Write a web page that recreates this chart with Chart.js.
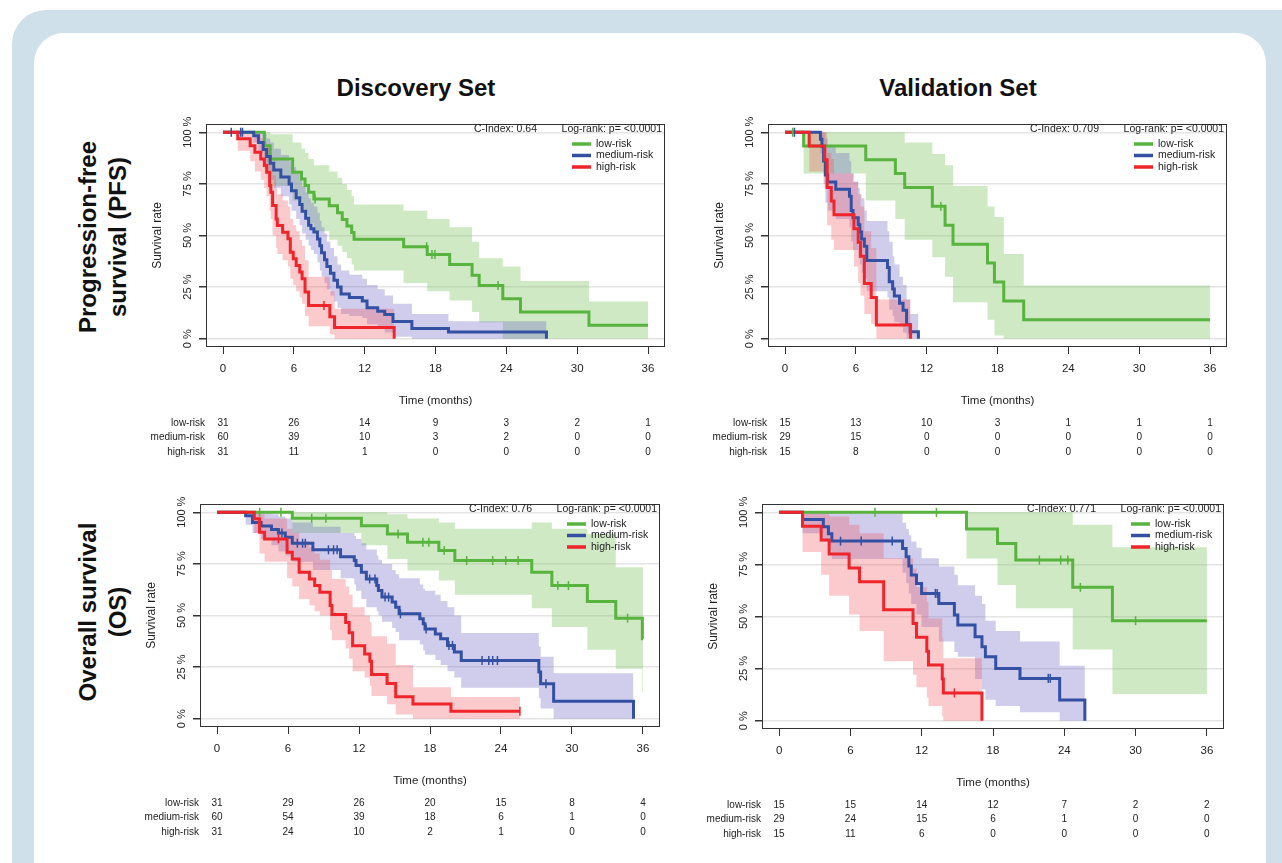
<!DOCTYPE html>
<html lang="en">
<head>
  <meta charset="UTF-8" />
  <title>Kaplan-Meier survival by risk group</title>
  <script src="https://cdn.jsdelivr.net/npm/chart.js"></script>
  <style>
    * { margin: 0; padding: 0; box-sizing: border-box; }
    body {
      width: 1282px; height: 863px; overflow: hidden; position: relative;
      background: #fff; font-family: "Liberation Sans", Arial, sans-serif; color: #111;
    }
    #bg {
      position: absolute; left: 12px; top: 10px; width: 1320px; height: 920px;
      background: #cfe0ea; border-radius: 34px;
    }
    #card {
      position: absolute; left: 34px; top: 33px; width: 1232px; height: 900px;
      background: #fff; border-radius: 30px;
    }
    .coltitle {
      position: absolute; width: 240px; height: 28px; line-height: 28px;
      text-align: center; font-weight: bold; font-size: 24px;
    }
    .rowtitle {
      position: absolute; width: 260px; height: 60px; line-height: 30px;
      text-align: center; font-weight: bold; font-size: 24px;
      transform: rotate(-90deg); transform-origin: 50% 50%;
    }
    canvas { position: absolute; }
  </style>
</head>
<body>
  <div id="bg"></div>
  <div id="card"></div>

  <div class="coltitle" style="left:296px; top:74px;">Discovery Set</div>
  <div class="coltitle" style="left:838px; top:74px;">Validation Set</div>

  <div class="rowtitle" style="left:-27px; top:207px;">Progression-free<br>survival (PFS)</div>
  <div class="rowtitle" style="left:-27px; top:582px;">Overall survival<br>(OS)</div>

<script>
  // ---- data ----
  const months = [0, 6, 12, 18, 24, 30, 36];
  const yTicks = [0, 25, 50, 75, 100];
  const groups = ['low-risk', 'medium-risk', 'high-risk'];
  const cIndexes = ['0.64', '0.709', '0.76', '0.771'];
  const logRank = 'Log-rank: p= <0.0001';

  // each step: [time, survival %, upper CI %, lower CI %]
  const pfsDiscLow = [
    [0,100,100,100],[3.5,93.5,100,82],[4.0,87.1,99,74],[5.9,80.6,95,67],[6.65,77.4,92,63],
    [6.95,74.2,90,60],[7.25,71,87,56],[7.7,67.7,84,52],[9.0,64.4,81,48],[9.7,61,78,45],
    [10.1,57.8,75,42],[10.5,54.6,72,39],[10.9,51.5,69,36],[11.1,48.2,65,33],[15.3,44.6,62,27],
    [17.3,40.8,58,23],[19.2,36,54,18.5],[21.1,30.8,47,13],[21.7,25.8,39,8],[23.7,19.4,35,0],
    [25.2,12.9,28,0],[31.0,6.5,18,0],[36,6.5,18,0]
  ];
  const pfsDiscMed = [
    [0,100,100,100],[2.6,98.3,100,95],[3.0,95,100,90],[3.4,91.7,99,84],[3.7,88.3,97,80],
    [4.0,85,95,77],[4.3,81.7,92,73],[4.9,78.3,89,69],[5.6,75,86,65],[5.8,71.7,83,62],
    [6.2,68.3,80,58],[6.5,65,77,55],[6.7,61.7,74,51],[7.0,58.3,71,48],[7.25,55,68,45],
    [7.45,53.3,66,43],[7.7,51.7,64,41],[8.0,48.3,61,37],[8.2,45,57,33],[8.35,41.7,54,30],
    [8.6,38.3,51,27],[8.8,35,47,24],[9.1,31.7,44,21],[9.4,28.3,40,18],[9.7,25,36,15],
    [10.0,21.7,33,12],[10.7,20,31,11],[11.8,18.3,29,10],[12.2,15,26,7],[13.1,13.3,24,5],
    [13.7,11.7,21,3],[14.4,8.3,17,1],[16.0,5,12,0],[19.1,3.3,8.5,0],[27.4,0,0,0]
  ];
  const pfsDiscHigh = [
    [0,100,100,100],[1.25,96.8,100,91],[2.3,93.5,100,86],[2.7,90.3,99,81],[3.2,87.1,97,77],
    [3.5,83.9,95,73],[3.7,80.6,93,69],[3.95,74.2,88,62],[4.05,71,85,58],[4.2,64.5,79,50],
    [4.5,58,73,44],[4.6,54.8,70,41],[5.05,51.6,67,38],[5.5,48.4,64,35],[5.7,41.9,58,29],
    [5.95,38.7,55,26],[6.2,35.5,52,23],[6.5,32.3,48,20],[6.7,29,45,17],[6.95,22.6,38,11],
    [7.25,16.1,30,6],[9.05,10.7,23,2],[9.45,5.4,14.5,0],[14.5,0,0,0]
  ];
  const pfsDiscLowCens = [7.8, 17.25, 17.7, 17.95, 23.3];
  const pfsDiscMedCens = [0.7, 1.5, 1.65];
  const pfsDiscHighCens = [8.55];

  const pfsValLow = [
    [0,100,100,100],[1.58,93.3,100,80],[6.84,86.7,100,67],[9.35,80,100,58],[10.14,73.3,95,48],
    [12.48,64.2,89.5,39.5],[13.56,55,84,30],[14.23,45.8,74,17.7],[17.15,36.7,64,9.2],
    [17.74,27.5,59,1.6],[18.53,18.3,41,0],[20.22,9.2,25.8,0],[36,9.2,25.8,0]
  ];
  const pfsValMed = [
    [0,100,100,100],[3.0,96.6,100,90],[3.13,93.1,100,85],[3.27,86.2,100,75],[3.42,79.3,97,66],
    [3.62,75.9,93,62],[4.3,72.4,90,58],[5.46,69,86,54],[5.61,62.1,80,47],[5.76,58.6,76,43],
    [6.2,55.2,73,39],[6.34,51.7,70,36],[6.49,48.3,68,32],[6.72,44.8,62,29],[6.93,37.9,57,23],
    [8.68,34.5,52,20],[8.83,27.6,47,14],[9.12,24.1,40,11],[9.26,20.7,36,8],[9.7,17.2,30,6],
    [10.0,13.8,26,3],[10.3,6.9,19,0],[10.6,3.4,12,0],[11.3,0,0,0]
  ];
  const pfsValHigh = [
    [0,100,100,100],[2.05,93.3,100,81],[3.36,86.7,100,73],[3.57,73.3,90,55],[3.92,66.7,87,48],
    [4.15,60,80,43],[5.84,53.3,76,35],[6.2,46.7,70,27],[6.4,40,64,21],[6.72,26.7,52,12],
    [7.3,20,44,7],[7.74,6.7,19,0],[10.64,0,0,0]
  ];
  const pfsValLowCens = [0.65, 13.2];
  const pfsValMedCens = [0.8];
  const pfsValHighCens = [];

  const osDiscLow = [
    [0,100,100,100],[6.36,97.1,100,90],[12.2,93.5,100,84],[14.4,89.5,99,77.4],[16.1,85.5,97,71.8],
    [18.75,81.5,95,67],[20.1,76.6,92,60],[26.6,71,95,53.5],[28.3,64.5,92,44.4],[31.3,56.8,89.5,33.4],
    [33.7,48.7,73.4,24.2],[35.95,38.7,73.4,12.9],[36,38.7,73.4,12.9]
  ];
  const osDiscMed = [
    [0,100,100,100],[2.42,98.3,100,94],[3.0,95,100,90],[3.73,93.3,100,87],[4.6,91.7,99,84],
    [5.19,90,98,81],[5.77,87.9,97,79],[6.36,85,95,76],[8.1,81.8,93,72],[10.44,78.5,90,68],
    [11.6,76.6,88.5,65],[11.75,74.2,87,62],[12.2,71,85,58],[12.62,67.7,82,54],[13.5,64.5,79,52],
    [13.64,62.1,77,50],[13.94,58.9,75,47],[14.8,56.5,72,44],[15.1,54,70,42],[15.39,50.8,68,38],
    [17.14,48.4,65,36],[17.43,46,63,33],[17.58,43.5,62,31],[18.45,41.1,60,28.5],[18.9,38.7,57,26],
    [19.48,35.5,54,23],[20.06,32.3,50,20],[20.64,28.2,41.5,15],[27.2,22.6,35,10],[27.35,16.9,30,5],
    [28.45,8.5,22,0],[35.2,0,0,0]
  ];
  const osDiscHigh = [
    [0,100,100,100],[3.15,96.8,100,90],[3.59,90.3,99,80],[4.02,87.1,97,76],[5.92,80.6,92,68],
    [6.36,77.4,90,64],[6.94,71,86,58],[7.81,67.7,83,55],[8.25,64.5,80,52],[8.69,61.3,77,50],
    [9.56,54.8,72,43],[9.71,50.5,67.7,38],[10.87,46.6,64,34],[11.17,41.6,60,29],[11.46,35.4,54,23],
    [12.48,31.3,50,20],[12.92,27.9,46.8,16],[13.06,21.4,40,11],[14.37,17.1,36.3,7],[15.1,10.7,26,2],
    [16.56,7.1,15.3,0],[19.77,3.6,10.5,0],[25.6,3.6,10.5,0]
  ];
  const osDiscLowCens = [3.6, 5.4, 8.0, 9.2, 15.3, 17.4, 17.9, 19.2, 21.1, 23.3, 24.4, 25.45, 28.8, 29.7, 34.7];
  const osDiscMedCens = [5.48, 6.79, 7.23, 7.46, 9.42, 9.85, 10.15, 12.9, 13.35, 14.2, 14.5, 15.5,
                         17.67, 19.6, 19.9, 22.4, 22.97, 23.3, 23.7, 27.8];
  const osDiscHighCens = [5.19, 25.6];

  const osValLow = [
    [0,100,100,100],[15.77,92,100,77.9],[18.38,85.1,100,65.1],[19.92,77.1,100,54],
    [24.71,64,94,34.2],[28.05,48,83.2,12.8],[36,48,83.2,12.8]
  ];
  const osValMed = [
    [0,100,100,100],[1.97,96.6,100,90],[3.72,93.1,100,86],[4.15,89.7,100,82],[4.44,86.2,100,77.6],
    [10.39,82.7,95,71],[10.69,78.7,92,66],[10.92,74.2,89,61],[11.12,69.9,86,56],[11.56,65.9,83,51],
    [11.99,61.1,78,45],[13.44,56.3,74,38],[14.75,50.7,70,33],[15.04,45.9,65,30.7],[16.49,40.3,60,20],
    [17.07,35.5,56,15],[17.36,30.7,48,10],[18.23,25.1,43,7],[20.27,20.3,38,4],[23.61,9.9,26.4,0],
    [25.73,0,0,0]
  ];
  const osValHigh = [
    [0,100,100,100],[1.97,93.3,100,81],[3.54,86.7,100,70],[4.21,80,98,60],[5.89,73.3,94,51],
    [6.77,66.7,90,43],[8.8,53.3,78,28.5],[11.27,46.7,73,22],[11.56,40,64,16],[12.43,33.3,57,11],
    [12.57,26.7,49,7],[13.73,20,40,2],[13.82,13.3,30,0],[17.07,0,0,0]
  ];
  const osValLowCens = [8.07, 13.24, 21.9, 23.7, 24.3, 25.35, 30.0];
  const osValMedCens = [5.17, 6.91, 9.52, 13.15, 13.3, 22.65, 22.82];
  const osValHighCens = [14.75];

  // numbers at risk, one row per group, one value per month tick
  const pfsDiscRisk = [[31,26,14,9,3,2,1],[60,39,10,3,2,0,0],[31,11,1,0,0,0,0]];
  const pfsValRisk  = [[15,13,10,3,1,1,1],[29,15,0,0,0,0,0],[15,8,0,0,0,0,0]];
  const osDiscRisk  = [[31,29,26,20,15,8,4],[60,54,39,18,6,1,0],[31,24,10,2,1,0,0]];
  const osValRisk   = [[15,15,14,12,7,2,2],[29,24,15,6,1,0,0],[15,11,6,0,0,0,0]];

  // ---- style ----
  const lineColors = ['#58b43f', '#3350a3', '#f0242b'];
  const bandColors = ['rgba(120,195,90,0.36)', 'rgba(115,105,200,0.34)', 'rgba(240,90,100,0.32)'];
  const FONT = '"Liberation Sans", Arial, sans-serif';
  Chart.defaults.font.family = FONT;
  Chart.defaults.color = '#222';

  const panels = [
    { left: 206, top: 124, bw: 459, bh: 223, curves: [pfsDiscLow, pfsDiscMed, pfsDiscHigh],
      cens: [pfsDiscLowCens, pfsDiscMedCens, pfsDiscHighCens], risk: pfsDiscRisk, cIndex: cIndexes[0] },
    { left: 768, top: 124, bw: 459, bh: 223, curves: [pfsValLow, pfsValMed, pfsValHigh],
      cens: [pfsValLowCens, pfsValMedCens, pfsValHighCens], risk: pfsValRisk, cIndex: cIndexes[1] },
    { left: 200, top: 504, bw: 460, bh: 223, curves: [osDiscLow, osDiscMed, osDiscHigh],
      cens: [osDiscLowCens, osDiscMedCens, osDiscHighCens], risk: osDiscRisk, cIndex: cIndexes[2] },
    { left: 762, top: 504, bw: 462, bh: 225, curves: [osValLow, osValMed, osValHigh],
      cens: [osValLowCens, osValMedCens, osValHighCens], risk: osValRisk, cIndex: cIndexes[3] }
  ];

  function survAt(curve, t) {
    let s = curve[0][1];
    for (const p of curve) { if (p[0] <= t) s = p[1]; }
    return s;
  }

  // box, rotated y labels, c-index, legend and risk table
  const kmDecor = {
    id: 'kmDecor',
    afterDatasetsDraw(chart, args, o) {
      const { ctx, chartArea: a, scales: { x, y } } = chart;
      ctx.save();
      ctx.strokeStyle = '#333';
      ctx.lineWidth = 1;
      ctx.strokeRect(a.left + 0.5, a.top + 0.5, a.right - a.left - 1, a.bottom - a.top - 1);

      ctx.fillStyle = '#222';
      ctx.font = '11px ' + FONT;
      ctx.textAlign = 'center';
      ctx.textBaseline = 'middle';
      yTicks.forEach(v => {
        ctx.save();
        ctx.translate(a.left - 18, y.getPixelForValue(v));
        ctx.rotate(-Math.PI / 2);
        ctx.fillText(v + ' %', 0, 0);
        ctx.restore();
      });

      ctx.font = '10.5px ' + FONT;
      ctx.textAlign = 'right';
      ctx.fillText('C-Index: ' + o.cIndex, a.right - 128, a.top + 5);
      ctx.fillText(logRank, a.right - 3, a.top + 5);

      groups.forEach((g, i) => {
        const yy = a.top + 20 + i * 11.5;
        ctx.strokeStyle = lineColors[i];
        ctx.lineWidth = 3.5;
        ctx.beginPath();
        ctx.moveTo(a.right - 93, yy);
        ctx.lineTo(a.right - 74, yy);
        ctx.stroke();
        ctx.textAlign = 'left';
        ctx.fillText(g, a.right - 69, yy);
      });

      ctx.font = '10px ' + FONT;
      o.risk.forEach((row, i) => {
        const yy = a.bottom + 76 + i * 14.5;
        ctx.textAlign = 'right';
        ctx.fillText(groups[i], a.left - 1, yy);
        ctx.textAlign = 'center';
        row.forEach((n, j) => ctx.fillText(n, x.getPixelForValue(months[j]), yy));
      });
      ctx.restore();
    }
  };

  panels.forEach((p, k) => {
    const cv = document.createElement('canvas');
    const w = p.bw + 80, h = p.bh + 125;
    cv.width = w; cv.height = h;
    cv.style.left = (p.left - 70) + 'px';
    cv.style.top = (p.top - 10) + 'px';
    document.body.appendChild(cv);

    const datasets = [];
    p.curves.forEach((c, i) => {
      const ord = 3 - i;
      datasets.push({
        data: c.map(q => ({ x: q[0], y: q[2] })), stepped: true, fill: '+1',
        backgroundColor: bandColors[i], borderWidth: 0, pointRadius: 0, order: 10 + ord
      });
      datasets.push({
        data: c.map(q => ({ x: q[0], y: q[3] })), stepped: true, fill: false,
        borderWidth: 0, pointRadius: 0, order: 10 + ord
      });
      datasets.push({
        data: c.map(q => ({ x: q[0], y: q[1] })), stepped: true, fill: false,
        borderColor: lineColors[i], borderWidth: 3, pointRadius: 0,
        borderJoinStyle: 'miter', order: ord
      });
      datasets.push({
        data: p.cens[i].map(t => ({ x: t, y: survAt(c, t) })), showLine: false,
        pointStyle: 'line', pointRotation: 90, pointRadius: 4.5,
        borderColor: lineColors[i], borderWidth: 1.5, order: 0
      });
    });

    new Chart(cv, {
      type: 'line',
      data: { datasets },
      plugins: [kmDecor],
      options: {
        responsive: false,
        animation: false,
        layout: { padding: { left: 10, top: 10, right: 10, bottom: 54 } },
        plugins: {
          legend: { display: false },
          tooltip: { enabled: false },
          filler: { drawTime: 'beforeDatasetsDraw' },
          kmDecor: { risk: p.risk, cIndex: p.cIndex }
        },
        scales: {
          x: {
            type: 'linear', min: -1.44, max: 37.44,
            afterBuildTicks: s => { s.ticks = months.map(v => ({ value: v })); },
            afterFit: s => { s.height = 61; },
            grid: { drawOnChartArea: false, drawTicks: true, tickLength: 7, tickColor: '#333' },
            border: { display: false },
            ticks: { padding: 8, maxRotation: 0, font: { size: 11.5 }, color: '#222' },
            title: { display: true, text: 'Time (months)', font: { size: 11.5 }, color: '#222', padding: 0 }
          },
          y: {
            type: 'linear', min: -4, max: 104,
            afterBuildTicks: s => { s.ticks = yTicks.map(v => ({ value: v })); },
            afterFit: s => { s.width = 60; },
            grid: { color: '#e4e4e4', lineWidth: 1.5, drawTicks: true, tickLength: 7, tickColor: '#333' },
            border: { display: false },
            ticks: { display: false },
            title: { display: true, text: 'Survival rate', font: { size: 12 }, color: '#222', padding: { top: 4, bottom: 4 } }
          }
        }
      }
    });
  });
</script>
</body>
</html>
